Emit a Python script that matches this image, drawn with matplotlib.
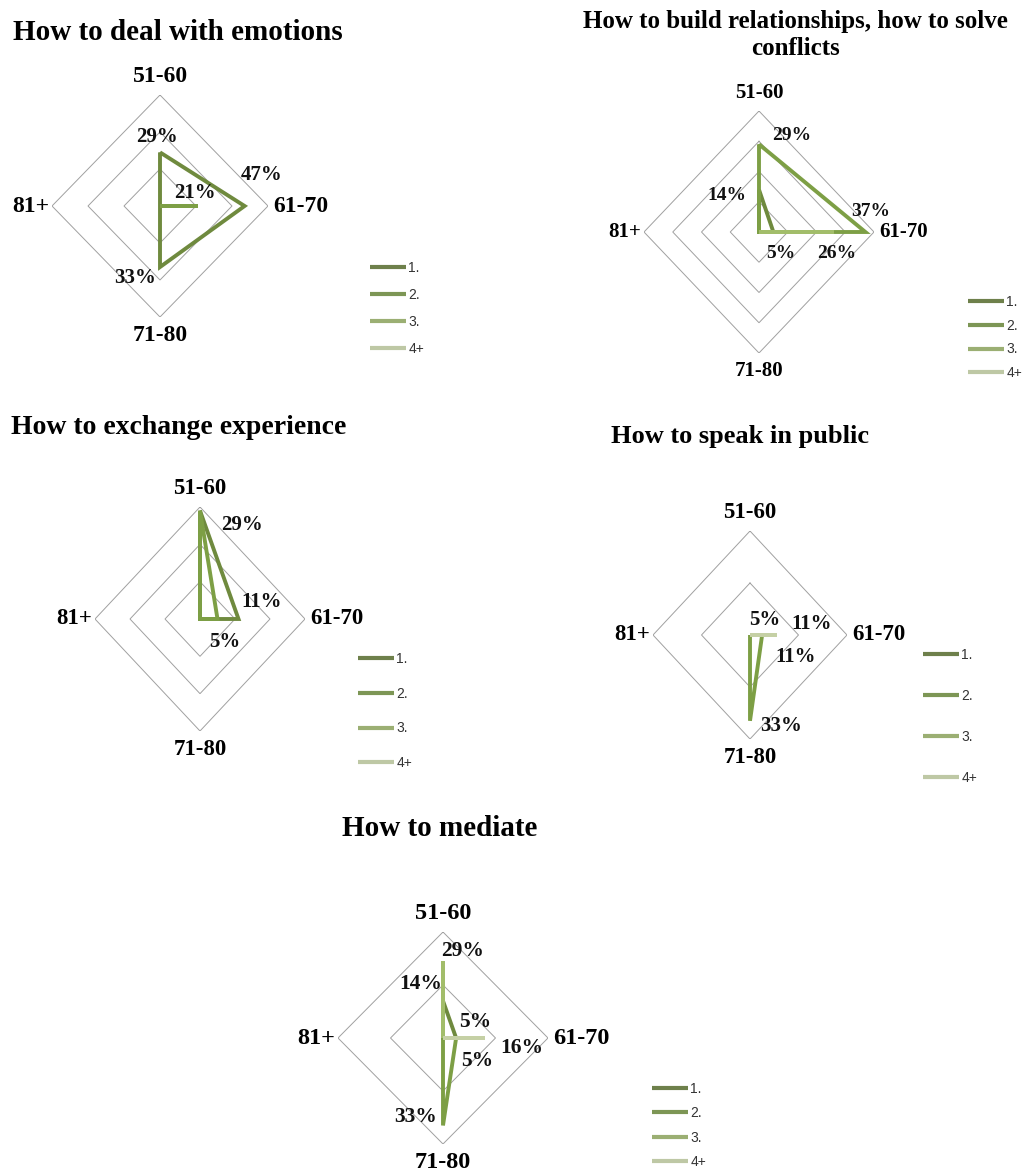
import numpy as np
import matplotlib
matplotlib.use('Agg')
import matplotlib.pyplot as plt

W, H = 1025, 1171

axis_names = ['51-60', '61-70', '71-80', '81+']
series_names = ['1.', '2.', '3.', '4+']
series_colors = ['#6f8a3e', '#7d9f45', '#a2bd6a', '#c5d0a5']
legend_colors = ['#6e804b', '#7d9655', '#9baf73', '#bec8a5']

# values in %, one list per series: 51-60, 61-70, 71-80, 81+
emotions = [[29, 47, 33, 0], [0, 21, 0, 0], [0, 0, 0, 0], [0, 0, 0, 0]]
relations = [[14, 5, 0, 0], [29, 37, 0, 0], [0, 26, 0, 0], [0, 0, 0, 0]]
experience = [[29, 11, 0, 0], [29, 5, 0, 0], [0, 0, 0, 0], [0, 0, 0, 0]]
public = [[0, 0, 0, 0], [0, 5, 33, 0], [0, 11, 0, 0], [0, 11, 0, 0]]
mediate = [[14, 5, 0, 0], [0, 5, 33, 0], [29, 0, 0, 0], [0, 16, 0, 0]]

titles = ['How to deal with emotions',
          'How to build relationships, how to solve\nconflicts',
          'How to exchange experience',
          'How to speak in public',
          'How to mediate']
scale_max = [60, 40, 30, 40, 40]
ring_steps = [20, 10, 10, 20, 20]

# layout (pixels): centre x, centre y, radius x, radius y
centres = [(160, 206, 108, 111), (759, 232, 115, 121), (200, 619, 105, 112),
           (750, 635, 97, 104), (443, 1038, 105, 106)]
title_pos = [(178, 32, 21), (795, 35, 18), (179, 427, 20), (740, 437, 19), (440, 829, 21)]
axis_fs = [17, 15, 16.5, 16.5, 17.5]
pct_fs = [15, 14, 15, 15, 15.5]
# legend: line start x, first row y, row pitch
legend_pos = [(370, 268, 27), (968, 302, 23.7), (358, 659, 34.7), (923, 655, 41), (652, 1089, 24.3)]

# data labels: (series, axis) -> offset in pixels (dx right, dy down)
label_offsets = [
    {(0, 0): (-3, -15), (0, 1): (17, -31), (0, 2): (-25, 11), (1, 1): (-3, -13)},
    {(1, 0): (33, -9), (1, 1): (5, -20), (0, 0): (-32, 6), (0, 1): (7, 21), (2, 1): (3, 21)},
    {(0, 0): (42, 14), (0, 1): (23, -17), (1, 1): (7, 23)},
    {(1, 1): (3, -15), (1, 2): (31, 5), (2, 1): (35, -11), (3, 1): (19, 22)},
    {(2, 0): (20, -10), (0, 0): (-22, -17), (0, 1): (19, -16), (1, 1): (21, 23),
     (3, 1): (37, 10), (1, 2): (-27, -8)},
]

serif = 'Liberation Serif'
sans = 'Liberation Sans'

dirs = np.array([[0, 1], [1, 0], [0, -1], [-1, 0]], dtype=float)

fig = plt.figure(figsize=(W / 100, H / 100), dpi=100)
fig.patch.set_facecolor('white')

panels = [emotions, relations, experience, public, mediate]
for p, data in enumerate(panels):
    cx, cy, rx, ry = centres[p]
    ax = fig.add_axes([(cx - rx) / W, 1 - (cy + ry) / H, 2 * rx / W, 2 * ry / H])
    ax.set_xlim(-1, 1)
    ax.set_ylim(-1, 1)
    ax.axis('off')
    vmax = scale_max[p]

    # diamond rings
    for level in np.arange(ring_steps[p], vmax + 0.1, ring_steps[p]):
        pts = dirs * level / vmax
        pts = np.vstack([pts, pts[:1]])
        ax.plot(pts[:, 0], pts[:, 1], color='#a0a0a0', lw=0.7, zorder=1,
                solid_joinstyle='miter')

    # series
    for s, vals in enumerate(data):
        r = np.array(vals, dtype=float) / vmax
        pts = dirs * r[:, None]
        pts = np.vstack([pts, pts[:1]])
        ax.plot(pts[:, 0], pts[:, 1], color=series_colors[s], lw=2.8, zorder=3 + s,
                solid_joinstyle='miter', solid_capstyle='butt', label=series_names[s])

    # data labels
    for (s, k), (dx, dy) in label_offsets[p].items():
        v = data[s][k]
        x, y = dirs[k] * v / vmax
        ax.annotate('%d%%' % v, (x, y), xytext=(dx, -dy), textcoords='offset pixels',
                    ha='center', va='center', fontsize=pct_fs[p], fontweight='bold',
                    family=serif, color='#111111', zorder=10, annotation_clip=False)

    # axis names
    fs = axis_fs[p]
    ax.annotate(axis_names[0], (0, 1), xytext=(0, 8), textcoords='offset pixels',
                ha='center', va='bottom', fontsize=fs, fontweight='bold', family=serif,
                annotation_clip=False)
    ax.annotate(axis_names[1], (1, 0), xytext=(5, 0), textcoords='offset pixels',
                ha='left', va='center', fontsize=fs, fontweight='bold', family=serif,
                annotation_clip=False)
    ax.annotate(axis_names[2], (0, -1), xytext=(0, -8), textcoords='offset pixels',
                ha='center', va='top', fontsize=fs, fontweight='bold', family=serif,
                annotation_clip=False)
    ax.annotate(axis_names[3], (-1, 0), xytext=(-3, 0), textcoords='offset pixels',
                ha='right', va='center', fontsize=fs, fontweight='bold', family=serif,
                annotation_clip=False)

    # title
    tx, ty, tfs = title_pos[p]
    fig.text(tx / W, 1 - ty / H, titles[p], ha='center', va='center', fontsize=tfs,
             fontweight='bold', family=serif, linespacing=1.2)

    # legend
    lx, ly, pitch = legend_pos[p]
    lfs = 10
    fs_px = lfs * 100 / 72
    spacing = (pitch - 1.0 * fs_px) / fs_px
    mid_y = ly + 1.5 * pitch
    handles = ax.get_lines()[-4:]
    leg = ax.legend(handles, series_names, loc='center left',
                    bbox_to_anchor=(lx / W, 1 - mid_y / H), bbox_transform=fig.transFigure,
                    frameon=False, borderpad=0, borderaxespad=0, handlelength=2.6,
                    handletextpad=0.15, labelspacing=spacing,
                    prop={'family': sans, 'size': lfs})
    for line, c in zip(leg.get_lines(), legend_colors):
        line.set_color(c)
        line.set_linewidth(3)
    for t in leg.get_texts():
        t.set_color('#333333')

fig.savefig('out.png', dpi=100, facecolor='white')
